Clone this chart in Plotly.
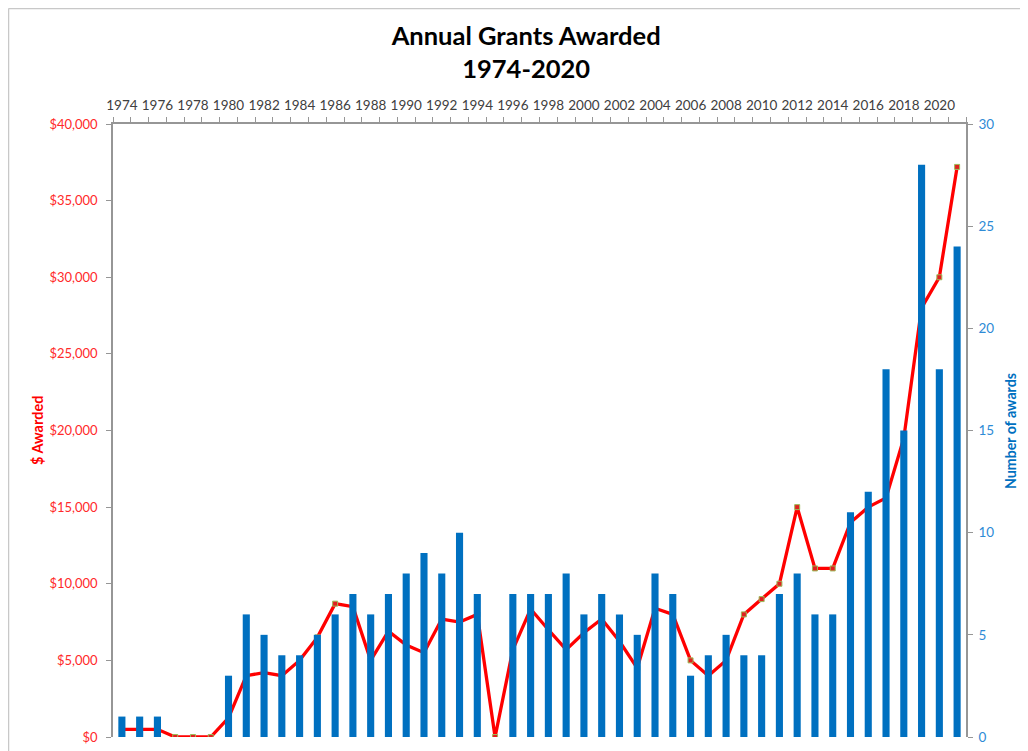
import plotly.graph_objects as go

years = list(range(1974, 2022))
awards = [1, 1, 1, 0, 0, 0, 3, 6, 5, 4, 4, 5, 6, 7, 6, 7, 8, 9, 8, 10, 7, 0,
          7, 7, 7, 8, 6, 7, 6, 5, 8, 7, 3, 4, 5, 4, 4, 7, 8, 6, 6, 11, 12, 18,
          15, 28, 18, 24]
dollars = [500, 500, 500, 0, 0, 0, 1250, 4000, 4200, 4000, 5000, 6500, 8700,
           8500, 5000, 6900, 6000, 5500, 7700, 7500, 8000, 0, 5700, 8350, 7000,
           5700, 6800, 7700, 6250, 4500, 8400, 8000, 5000, 4000, 5000, 8000,
           9000, 10000, 15000, 11000, 11000, 14000, 15000, 15600, 19500, 28000,
           30000, 37200]
label_years = list(range(1974, 2021, 2))
left_ticks = list(range(0, 40001, 5000))
left_labels = ["$0", "$5,000", "$10,000", "$15,000", "$20,000", "$25,000",
               "$30,000", "$35,000", "$40,000"]
right_ticks = list(range(0, 31, 5))

FONT = "Lato, 'Open Sans', sans-serif"
RED = "#FF2A2A"
BLUE_TXT = "#2E8BD6"
BAR_BLUE = "#0070C0"

# page body has an 8px margin: work in page pixels, convert to figure pixels
OFF = 8
W, H = 1028 - OFF, 751 - OFF
L, R, T, B = 113 - OFF, 966 - OFF, 124 - OFF, 737 - OFF
PW, PH = R - L, B - T


def px(x_page):
    return (x_page - OFF - L) / PW


def py(y_page):
    return (B - (y_page - OFF)) / PH


fig = go.Figure()
fig.add_trace(go.Bar(
    x=years, y=awards, yaxis="y2", marker_color=BAR_BLUE,
    marker_line_width=0, width=0.4, name="Number of awards",
))
fig.add_trace(go.Scatter(
    x=years, y=dollars, yaxis="y", mode="lines+markers",
    line=dict(color="#FF0000", width=3.3),
    marker=dict(symbol="square", size=5, color="#E02020",
                line=dict(color="#9BBB59", width=1)),
    name="$ Awarded",
))

fig.update_layout(
    width=W, height=H,
    margin=dict(l=L, r=W - R, t=T, b=H - B),
    paper_bgcolor="white", plot_bgcolor="white",
    showlegend=False,
    font=dict(family=FONT, size=12, color="#404040"),
    title=dict(text="<b>Annual Grants Awarded<br>1974-2020</b>",
               x=0.508, xanchor="center", y=0.950, yanchor="top",
               font=dict(family=FONT, size=25.5, color="black")),
    xaxis=dict(
        side="top", range=[1973.5, 2021.5], automargin=False,
        tickmode="array", tickvals=label_years,
        ticktext=[str(y) for y in label_years],
        ticks="outside", ticklen=7, tickcolor="rgba(0,0,0,0)",
        tickfont=dict(size=13.5, color="#404040"),
        showline=True, linecolor="#969696", linewidth=1.5,
        showgrid=False, zeroline=False,
        minor=dict(tickmode="array",
                   tickvals=[y - 0.5 for y in range(1974, 2023)],
                   ticks="outside", ticklen=5, tickcolor="#969696",
                   showgrid=False),
    ),
    yaxis=dict(
        range=[0, 40000], automargin=False,
        tickmode="array", tickvals=left_ticks,
        ticktext=left_labels, tickfont=dict(size=13, color=RED),
        ticks="outside", ticklen=5, tickcolor="#969696",
        ticklabelstandoff=6,
        showline=True, linecolor="#969696", linewidth=1.5,
        showgrid=False, zeroline=False,
    ),
    yaxis2=dict(
        overlaying="y", side="right", range=[0, 30], automargin=False,
        tickmode="array", tickvals=right_ticks,
        tickfont=dict(size=13.5, color=BLUE_TXT),
        ticks="outside", ticklen=5, tickcolor="#969696",
        ticklabelstandoff=3,
        showline=True, linecolor="#969696", linewidth=1.5,
        showgrid=False, zeroline=False,
    ),
    annotations=[
        dict(text="<b>$ Awarded</b>", xref="paper", yref="paper",
             x=px(37), y=py(431), xanchor="center", yanchor="middle",
             textangle=-90, showarrow=False,
             font=dict(family=FONT, size=14.5, color="#FF0000")),
        dict(text="<b>Number of awards</b>", xref="paper", yref="paper",
             x=px(1010), y=py(431), xanchor="center", yanchor="middle",
             textangle=-90, showarrow=False,
             font=dict(family=FONT, size=14.2, color=BAR_BLUE)),
    ],
    shapes=[
        dict(type="line", xref="paper", yref="paper",
             x0=px(8.5), x1=px(1040), y0=py(8.5), y1=py(8.5),
             line=dict(color="#C8C8C8", width=1.5)),
        dict(type="line", xref="paper", yref="paper",
             x0=px(8.5), x1=px(8.5), y0=py(8.5), y1=py(760),
             line=dict(color="#C8C8C8", width=1.5)),
    ],
)

fig.write_html("out.html")
